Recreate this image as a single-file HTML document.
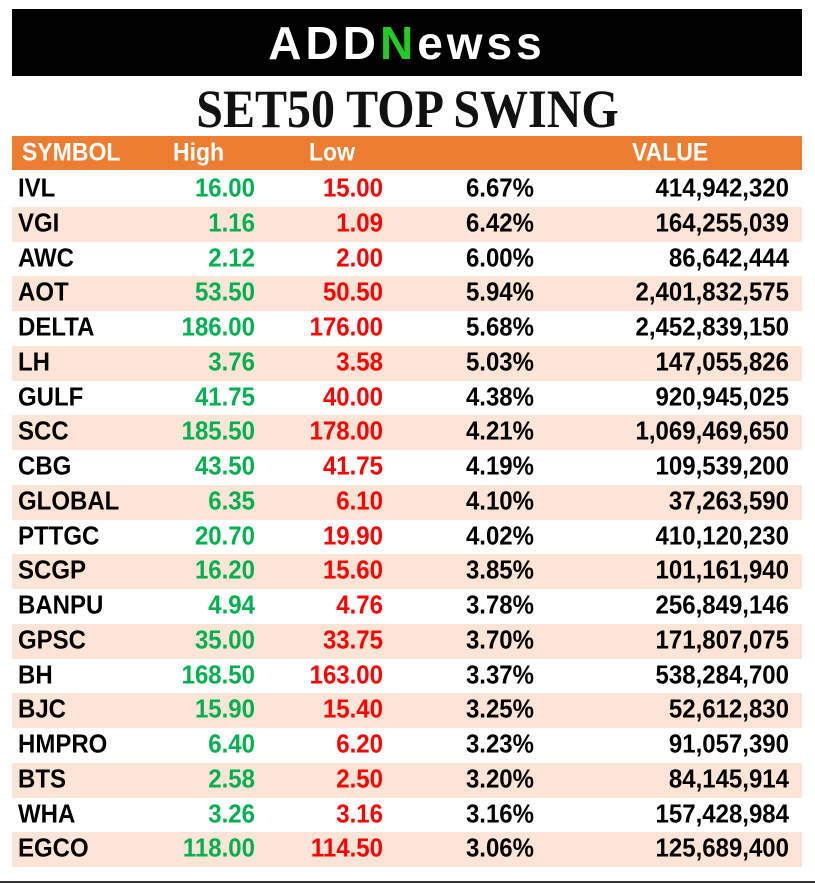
<!DOCTYPE html>
<html><head><meta charset="utf-8"><style>
body{margin:0;width:815px;height:883px;background:#f7f7f7;position:relative;overflow:hidden;font-family:"Liberation Sans",sans-serif}
#frame{position:absolute;left:0;top:0;width:815px;height:881px;border-bottom:2px solid #333;background:#fff}
#logo{position:absolute;left:12px;top:9px;width:790px;height:67px;background:#000}
#logo-text{position:absolute;left:0;right:0;top:7px;text-align:center;color:#fff;font-weight:bold;font-size:46px;letter-spacing:4px}
#title{position:absolute;left:0;right:0;top:82px;text-align:center;font-family:"Liberation Serif",serif;font-weight:bold;font-size:48px;color:#111;transform:scaleY(1.12)}
#hdr{position:absolute;left:12px;top:136px;width:790px;height:34px;background:#ed7d31;color:#fff;font-weight:bold;font-size:23px}
.row{position:absolute;left:12px;width:790px;height:35px;font-weight:bold;font-size:24px}
.row span,#hdr span{position:absolute;top:3px;transform:scaleY(1.08)}
.alt{background:#fce4d6}
.g{color:#00b050}.r{color:#ff0000}
</style></head><body>
<div id="frame"></div>
<div id="logo"><div id="logo-text">ADD<span style="color:#22cc22">N</span>ewss</div></div>
<div id="title">SET50 TOP SWING</div>
<div id="hdr">
<span style="left:10px">SYMBOL</span>
<span style="left:161px">High</span>
<span style="left:297px">Low</span>
<span style="left:620px">VALUE</span>
</div>
<div id="rows"></div>
<script>
const symbols=["IVL","VGI","AWC","AOT","DELTA","LH","GULF","SCC","CBG","GLOBAL","PTTGC","SCGP","BANPU","GPSC","BH","BJC","HMPRO","BTS","WHA","EGCO"];
const highs=["16.00","1.16","2.12","53.50","186.00","3.76","41.75","185.50","43.50","6.35","20.70","16.20","4.94","35.00","168.50","15.90","6.40","2.58","3.26","118.00"];
const lows=["15.00","1.09","2.00","50.50","176.00","3.58","40.00","178.00","41.75","6.10","19.90","15.60","4.76","33.75","163.00","15.40","6.20","2.50","3.16","114.50"];
const pcts=["6.67%","6.42%","6.00%","5.94%","5.68%","5.03%","4.38%","4.21%","4.19%","4.10%","4.02%","3.85%","3.78%","3.70%","3.37%","3.25%","3.23%","3.20%","3.16%","3.06%"];
const values=["414,942,320","164,255,039","86,642,444","2,401,832,575","2,452,839,150","147,055,826","920,945,025","1,069,469,650","109,539,200","37,263,590","410,120,230","101,161,940","256,849,146","171,807,075","538,284,700","52,612,830","91,057,390","84,145,914","157,428,984","125,689,400"];
const host=document.getElementById('rows');
symbols.forEach((s,i)=>{
 const r=document.createElement('div');
 r.className='row'+(i%2?' alt':'');
 r.style.top=(172+i*34.75)+'px';
 
 
 const cells=[[s,'left:6px',''],[highs[i],'right:547px','g'],[lows[i],'right:419px','r'],[pcts[i],'right:268px',''],[values[i],'right:13px','']];
 const names=['symbol','high','low','pct','value'];
 cells.forEach((c,j)=>{
  const sp=document.createElement('span');
  sp.textContent=c[0];sp.style.cssText=c[1];if(c[2])sp.className=c[2];
  
  
  r.appendChild(sp);
 });
 host.appendChild(r);
});
</script>
</body></html>
